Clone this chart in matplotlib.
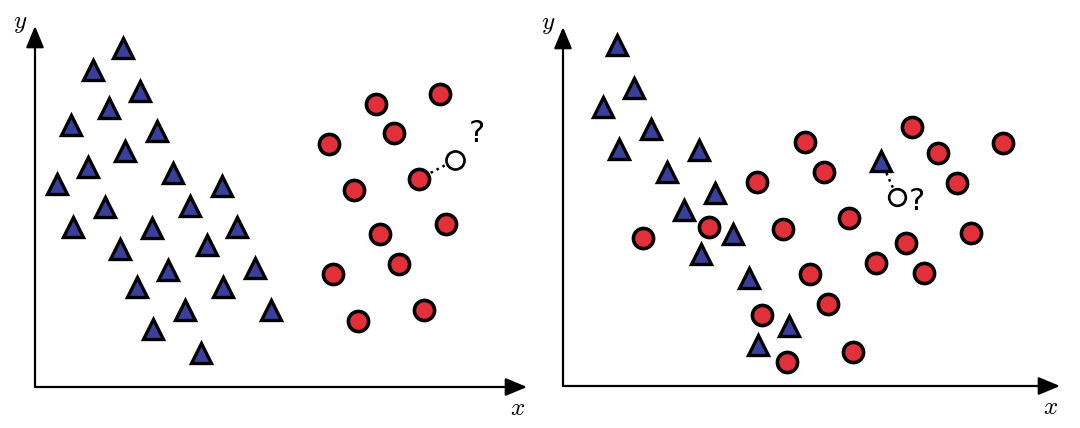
import matplotlib.pyplot as plt

plt.rcParams['mathtext.fontset'] = 'cm'

# left panel: two well separated classes
left_tri_x = [8.8, 5.8, 10.5, 7.4, 3.6, 12.2, 9.0, 5.3, 13.8, 2.2, 18.7, 7.0, 15.5,
              3.8, 11.7, 20.2, 8.5, 17.2, 13.3, 22.0, 10.2, 18.8, 15.0, 23.6, 11.8, 16.6]
left_tri_y = [33.9, 31.7, 29.6, 27.9, 26.2, 25.6, 23.6, 22.0, 21.4, 20.3, 20.1, 18.0, 18.1,
              16.0, 15.9, 16.0, 13.8, 14.2, 11.7, 11.9, 10.0, 10.0, 7.7, 7.7, 5.8, 3.4]
left_circ_x = [34.1, 40.5, 35.9, 29.4, 38.4, 31.9, 41.1, 34.5, 36.4, 29.8, 38.9, 32.3]
left_circ_y = [28.3, 29.3, 25.4, 24.3, 20.8, 19.7, 16.3, 15.3, 12.3, 11.3, 7.7, 6.6]
left_query = (42.0, 22.7)
left_neighbor = (38.4, 20.8)

# right panel: classes mixed together
right_tri_x = [5.4, 7.1, 4.0, 8.8, 5.6, 13.6, 10.4, 15.2, 12.1, 17.0, 13.8, 18.6, 22.6, 19.5, 31.8]
right_tri_y = [34.1, 29.8, 27.9, 25.7, 23.7, 23.6, 21.4, 19.3, 17.6, 15.2, 13.2, 10.8, 6.0, 4.1, 22.5]
right_circ_x = [24.2, 34.9, 44.0, 37.5, 26.1, 19.4, 39.4, 28.6, 14.6, 22.0,
                40.8, 8.0, 34.3, 31.3, 24.7, 36.1, 26.5, 19.9, 29.0, 22.4]
right_circ_y = [24.4, 25.9, 24.3, 23.3, 21.4, 20.4, 20.3, 16.8, 15.9, 15.7,
                15.3, 14.8, 14.3, 12.3, 11.2, 11.3, 8.2, 7.1, 3.4, 2.4]
right_query = (33.4, 18.9)
right_neighbor = (31.8, 22.5)

tri_color = '#3b3f9c'
circ_color = '#e2303a'

fig = plt.figure(figsize=(10.8, 4.28), dpi=100)
ax1 = fig.add_axes([35 / 1080, 41 / 428, 492 / 1080, 361 / 428])
ax2 = fig.add_axes([563 / 1080, 42 / 428, 497 / 1080, 359 / 428])


def draw_panel(ax, xmax, ymax, tx, ty, cx, cy, query, neighbor, qsize, qoff):
    ax.set_xlim(0, xmax)
    ax.set_ylim(0, ymax)
    ax.axis('off')
    arrow = dict(arrowstyle='-|>,head_length=0.6,head_width=0.25', lw=1.6, color='black',
                 mutation_scale=22, shrinkA=0, shrinkB=0)
    ax.annotate('', xy=(xmax, 0), xytext=(0, 0), arrowprops=arrow, annotation_clip=False)
    ax.annotate('', xy=(0, ymax), xytext=(0, 0), arrowprops=arrow, annotation_clip=False)
    ax.text(-1.5, ymax + 0.3, '$y$', fontsize=18, ha='center', va='center', clip_on=False)
    ax.text(xmax - 0.9, -2.1, '$x$', fontsize=18, ha='center', va='center', clip_on=False)

    ax.plot([neighbor[0], query[0]], [neighbor[1], query[1]], ls=':', color='black',
            lw=1.8, zorder=2)
    ax.plot(tx, ty, ls='none', marker='^', ms=14.5, mfc=tri_color, mec='black', mew=2.4,
            zorder=3, clip_on=False)
    ax.plot(cx, cy, ls='none', marker='o', ms=14.5, mfc=circ_color, mec='black', mew=2.6,
            zorder=3, clip_on=False)
    ax.plot([query[0]], [query[1]], ls='none', marker='o', ms=qsize, mfc='white',
            mec='black', mew=1.9, zorder=4)
    ax.text(query[0] + qoff[0], query[1] + qoff[1], '?', fontsize=22, ha='center',
            va='center', zorder=4)


draw_panel(ax1, 49.2, 36.1, left_tri_x, left_tri_y, left_circ_x, left_circ_y,
           left_query, left_neighbor, 13, (2.2, 2.6))
draw_panel(ax2, 49.7, 35.9, right_tri_x, right_tri_y, right_circ_x, right_circ_y,
           right_query, right_neighbor, 12, (2.0, -0.4))

fig.savefig('out.png', dpi=100)
